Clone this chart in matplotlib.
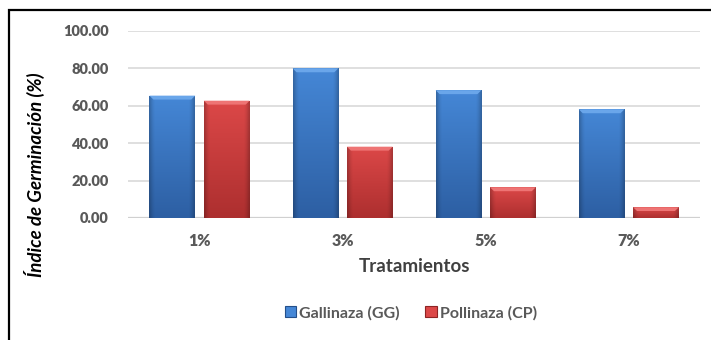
import numpy as np
import matplotlib
matplotlib.use("Agg")
import matplotlib.pyplot as plt
from matplotlib.patches import Rectangle, Polygon
from matplotlib.colors import to_rgb

categories = ["1%", "3%", "5%", "7%"]
gallinaza = [65.4, 80.0, 68.3, 58.1]
pollinaza = [62.7, 38.1, 16.4, 5.7]
series_names = ["Gallinaza (GG)", "Pollinaza (CP)"]
y_ticks = [0, 20, 40, 60, 80, 100]

plt.rcParams["font.family"] = ["Lato", "DejaVu Sans"]

fig = plt.figure(figsize=(7.11, 3.40), dpi=100)
ax = fig.add_axes([0.180, 0.359, 0.805, 0.550])

# outer chart frame
fig.patches.append(Rectangle((9 / 711, -0.05), 1.1, 1 - 10 / 340 + 0.05,
                             transform=fig.transFigure, fill=False,
                             edgecolor="black", linewidth=1.6, zorder=0))

x = np.arange(len(categories))
width = 0.32
offset = 0.19

styles = {
    "blue": dict(top="#4587d6", bottom="#2d5fa3", bevel="#6aa6ea", edge="#244f8a"),
    "red": dict(top="#dc4848", bottom="#ad2f2f", bevel="#ee7474", edge="#8e2424"),
}


def shaded_bar(ax, xc, h, w, st):
    bars = ax.bar(xc, h, w, color=st["top"], edgecolor="none", zorder=3)
    patch = bars[0]
    ny, nx = 64, 32
    top = np.array(to_rgb(st["top"]))
    bot = np.array(to_rgb(st["bottom"]))
    t = np.linspace(0, 1, ny)[:, None, None]
    img = top * (1 - t) + bot * t
    img = np.repeat(img, nx, axis=1)
    u = np.linspace(-1, 1, nx)
    shade = 1 - 0.22 * np.clip((np.abs(u) - 0.75) / 0.25, 0, 1) ** 1.5
    img = img * shade[None, :, None]
    im = ax.imshow(img, extent=(xc - w / 2, xc + w / 2, 0, h),
                   origin="upper", aspect="auto", zorder=3.1,
                   interpolation="bilinear")
    im.set_clip_path(patch)
    bx = 0.028
    by = min(2.1, h * 0.35)
    ax.add_patch(Polygon([(xc - w / 2, h), (xc + w / 2, h),
                          (xc + w / 2 - bx, h - by), (xc - w / 2 + bx, h - by)],
                         closed=True, facecolor=st["bevel"], edgecolor="none",
                         zorder=3.2))
    return patch


for i in range(len(categories)):
    shaded_bar(ax, x[i] - offset, gallinaza[i], width, styles["blue"])
    shaded_bar(ax, x[i] + offset, pollinaza[i], width, styles["red"])

ax.set_xlim(-0.5, len(categories) - 0.5)
ax.set_ylim(0, 100)
ax.set_yticks(y_ticks)
ax.set_yticklabels([f"{v:.2f}" for v in y_ticks], fontsize=10.5,
                   fontweight="heavy", color="#595959")
ax.set_xticks(x)
ax.set_xticklabels(categories, fontsize=11.5, fontweight="heavy", color="#595959")
ax.tick_params(axis="both", length=0)
ax.tick_params(axis="y", pad=14)
ax.tick_params(axis="x", pad=11)
ax.grid(axis="y", color="#d9d9d9", linewidth=1.2, zorder=0)
ax.set_axisbelow(True)
for s in ax.spines.values():
    s.set_visible(False)
ax.axhline(0, color="#d0d0d0", linewidth=1.6, zorder=2)

ax.set_xlabel("Tratamientos", fontsize=13.5, fontweight="bold", color="#404040",
              labelpad=6)
fig.text(35 / 711, 1 - 175 / 340, "Índice de Germinación (%)", rotation=90,
         ha="center", va="center", fontsize=13.5, fontweight="bold",
         fontstyle="italic", color="black")

handles = [Rectangle((0, 0), 1, 1, facecolor=styles["blue"]["top"],
                     edgecolor=styles["blue"]["edge"], linewidth=0.8),
           Rectangle((0, 0), 1, 1, facecolor=styles["red"]["top"],
                     edgecolor=styles["red"]["edge"], linewidth=0.8)]
fig.legend(handles, series_names, loc="center", bbox_to_anchor=(0.578, 0.079),
           ncol=2, frameon=False, handlelength=0.7, handleheight=0.7,
           handletextpad=0.2, columnspacing=1.6,
           prop=dict(family=["Lato", "DejaVu Sans"], size=11.5, weight="bold"),
           labelcolor="#595959")

fig.savefig("out.png", dpi=100)
